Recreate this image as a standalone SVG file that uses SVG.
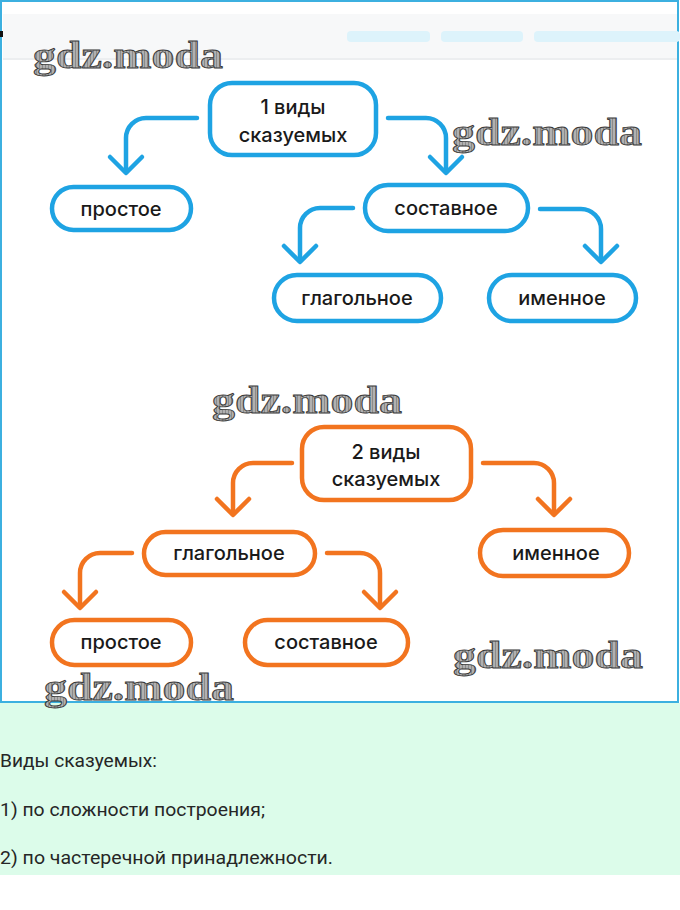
<svg xmlns="http://www.w3.org/2000/svg" width="680" height="910" viewBox="0 0 680 910">
<defs>
<style>
.bn{fill:#fff;stroke:#1ea3e3;stroke-width:4.5}
.on{fill:#fff;stroke:#f2741f;stroke-width:4.5}
.bc{fill:none;stroke:#1ea3e3;stroke-width:4.5;stroke-linecap:round;stroke-linejoin:round}
.oc{fill:none;stroke:#f2741f;stroke-width:4.5;stroke-linecap:round;stroke-linejoin:round}
.t{font-family:Inter,"Liberation Sans",sans-serif;font-size:20px;font-weight:500;fill:#1a1a1a;text-anchor:middle}
.wm{font-family:"Liberation Serif","DejaVu Serif",serif;font-size:38px;font-weight:bold;fill:url(#hatch);stroke:#3a3a3a;stroke-width:0.9}
.bt{font-family:Roboto,"Liberation Sans",sans-serif;font-size:18px;fill:#262626}
</style>
<pattern id="hatch" width="3" height="3" patternUnits="userSpaceOnUse">
<rect width="3" height="3" fill="#b0b0b0"/>
<line x1="0" y1="0" x2="0" y2="3" stroke="#666" stroke-width="1"/>
</pattern>
</defs>
<rect x="0" y="0" width="680" height="910" fill="#fff"/>
<rect x="0" y="703" width="680" height="172" fill="#dcfcea"/>
<rect x="1" y="1" width="677" height="701" fill="#fff" stroke="#3cb0e0" stroke-width="2"/>
<rect x="3" y="14" width="674" height="46" fill="#f7f8f9"/>
<rect x="3" y="58" width="674" height="2" fill="#eceef0"/>
<rect x="347" y="31" width="83" height="11" rx="4" fill="#ddf3fb"/>
<rect x="441" y="31" width="82" height="11" rx="4" fill="#ddf3fb"/>
<rect x="534" y="31" width="146" height="11" rx="4" fill="#ddf3fb"/>
<rect x="0" y="31" width="3" height="6" fill="#111"/>

<g id="connectors">
<path class="bc" d="M197,118 H146 A20,20 0 0 0 126,138 V172"/>
<path class="bc" d="M110,157 L126,173 L142,157"/>
<path class="bc" d="M388,118 H426 A20,20 0 0 1 446,138 V172"/>
<path class="bc" d="M430,157 L446,173 L462,157"/>
<path class="bc" d="M353,208 H320 A20,20 0 0 0 300,228 V261"/>
<path class="bc" d="M284,246 L300,262 L316,246"/>
<path class="bc" d="M540,209 H581 A20,20 0 0 1 601,229 V261"/>
<path class="bc" d="M585,246 L601,262 L617,246"/>
<path class="oc" d="M292,463 H253 A20,20 0 0 0 233,483 V514"/>
<path class="oc" d="M217,499 L233,515 L249,499"/>
<path class="oc" d="M483,463 H534 A20,20 0 0 1 554,483 V514"/>
<path class="oc" d="M538,499 L554,515 L570,499"/>
<path class="oc" d="M132,553 H100 A20,20 0 0 0 80,573 V607"/>
<path class="oc" d="M64,592 L80,608 L96,592"/>
<path class="oc" d="M327,553 H360 A20,20 0 0 1 380,573 V607"/>
<path class="oc" d="M364,592 L380,608 L396,592"/>
</g>

<g id="b-root"><rect class="bn" x="210" y="83" width="166" height="72" rx="22"/><text class="t" x="293" y="114">1 виды</text><text class="t" x="293" y="142">сказуемых</text></g>
<g id="b-prostoe"><rect class="bn" x="52" y="187" width="139" height="43" rx="21.5"/><text class="t" x="121" y="216">простое</text></g>
<g id="b-sostavnoe"><rect class="bn" x="365" y="185" width="163" height="46" rx="23"/><text class="t" x="446" y="215">составное</text></g>
<g id="b-glagolnoe"><rect class="bn" x="274" y="275" width="167" height="46" rx="23"/><text class="t" x="357" y="305">глагольное</text></g>
<g id="b-imennoe"><rect class="bn" x="489" y="275" width="147" height="46" rx="23"/><text class="t" x="562" y="305">именное</text></g>

<g id="o-root"><rect class="on" x="302" y="427" width="169" height="73" rx="22"/><text class="t" x="386" y="459">2 виды</text><text class="t" x="386" y="486">сказуемых</text></g>
<g id="o-glagolnoe"><rect class="on" x="144" y="532" width="171" height="43" rx="21.5"/><text class="t" x="229" y="560">глагольное</text></g>
<g id="o-imennoe"><rect class="on" x="480" y="530" width="149" height="46" rx="23"/><text class="t" x="556" y="560">именное</text></g>
<g id="o-prostoe"><rect class="on" x="52" y="620" width="139" height="45" rx="22.5"/><text class="t" x="121" y="649">простое</text></g>
<g id="o-sostavnoe"><rect class="on" x="245" y="620" width="163" height="45" rx="22.5"/><text class="t" x="326" y="649">составное</text></g>

<g id="watermarks">
<text class="wm" x="33" y="68" textLength="190" lengthAdjust="spacingAndGlyphs">gdz.moda</text>
<text class="wm" x="452" y="145" textLength="190" lengthAdjust="spacingAndGlyphs">gdz.moda</text>
<text class="wm" x="212" y="413" textLength="190" lengthAdjust="spacingAndGlyphs">gdz.moda</text>
<text class="wm" x="453" y="668" textLength="190" lengthAdjust="spacingAndGlyphs">gdz.moda</text>
<text class="wm" x="44" y="700" textLength="190" lengthAdjust="spacingAndGlyphs">gdz.moda</text>
</g>

<g id="notes">
<text class="bt" x="0" y="767" textLength="157" lengthAdjust="spacingAndGlyphs">Виды сказуемых:</text>
<text class="bt" x="0" y="816" textLength="265" lengthAdjust="spacingAndGlyphs">1) по сложности построения;</text>
<text class="bt" x="0" y="864" textLength="333" lengthAdjust="spacingAndGlyphs">2) по частеречной принадлежности.</text>
</g>
</svg>
